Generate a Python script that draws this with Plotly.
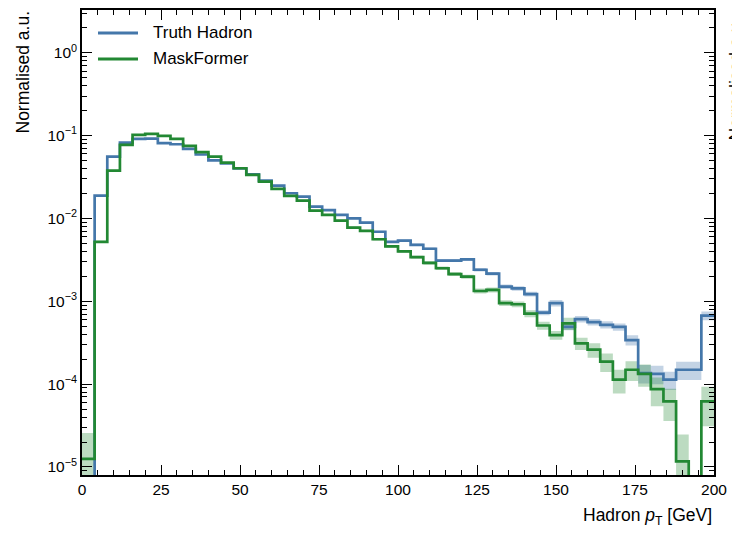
import numpy as np
import plotly.graph_objects as go

# ---- data -----------------------------------------------------------------
bin_edges = list(range(0, 204, 4))  # 50 bins of 4 GeV, 0-200 GeV

truth_hadron = [
    0.0, 0.0188, 0.0555, 0.082, 0.091, 0.092, 0.081, 0.0785, 0.069, 0.059,
    0.050, 0.046, 0.040, 0.034, 0.0286, 0.0249, 0.0201, 0.0183, 0.0139, 0.0126,
    0.0110, 0.0100, 0.0089, 0.0069, 0.0052, 0.0054, 0.0048, 0.0043, 0.0031, 0.0031,
    0.0032, 0.0024, 0.00215, 0.0015, 0.00143, 0.00122, 0.00073, 0.00095, 0.00049, 0.00061,
    0.00056, 0.00052, 0.00049, 0.00034, 0.000136, 0.000133, 0.000113, 0.000149, 0.000149, 0.00067,
]
truth_hadron_relerr = [
    0.0, 0.02, 0.01, 0.008, 0.007, 0.007, 0.008, 0.008, 0.008, 0.009,
    0.01, 0.011, 0.012, 0.013, 0.014, 0.015, 0.017, 0.018, 0.02, 0.021,
    0.023, 0.024, 0.025, 0.029, 0.032, 0.032, 0.034, 0.036, 0.042, 0.043,
    0.042, 0.048, 0.052, 0.06, 0.062, 0.068, 0.07, 0.09, 0.09, 0.09,
    0.09, 0.1, 0.1, 0.14, 0.25, 0.25, 0.25, 0.25, 0.25, 0.12,
]

maskformer = [
    1.25e-5, 0.0052, 0.0377, 0.077, 0.1016, 0.1046, 0.099, 0.091, 0.075, 0.063,
    0.0557, 0.047, 0.0403, 0.0335, 0.0278, 0.0227, 0.0187, 0.0164, 0.0124, 0.011,
    0.0094, 0.00775, 0.00706, 0.0056, 0.0046, 0.0040, 0.0034, 0.0029, 0.0025, 0.00213,
    0.00198, 0.00133, 0.00137, 0.00095, 0.00092, 0.00071, 0.00051, 0.00039, 0.00054, 0.00031,
    0.00026, 0.000187, 0.000113, 0.000149, 0.000133, 8.7e-5, 6.2e-5, 1.17e-5, 0.0, 6.2e-5,
]
maskformer_relerr = [
    1.05, 0.03, 0.012, 0.009, 0.008, 0.008, 0.008, 0.008, 0.009, 0.01,
    0.011, 0.012, 0.013, 0.014, 0.015, 0.017, 0.019, 0.02, 0.023, 0.024,
    0.026, 0.029, 0.03, 0.034, 0.037, 0.04, 0.043, 0.047, 0.05, 0.055,
    0.056, 0.07, 0.068, 0.08, 0.082, 0.095, 0.11, 0.12, 0.17, 0.17,
    0.2, 0.25, 0.32, 0.27, 0.3, 0.38, 0.42, 1.1, 0.0, 0.5,
]

series_names = ["Truth Hadron", "MaskFormer"]

x_tick_vals = [0, 25, 50, 75, 100, 125, 150, 175, 200]
y_tick_vals = [1e-5, 1e-4, 1e-3, 1e-2, 1e-1, 1e0]
y_tick_text = ["10<sup>−5</sup>", "10<sup>−4</sup>", "10<sup>−3</sup>",
               "10<sup>−2</sup>", "10<sup>−1</sup>", "10<sup>0</sup>"]

# ---- styling ----------------------------------------------------------------
W, H = 732, 533
L, R, T, B = 82, 18, 10, 58
FONT = "Liberation Sans, Arial, Helvetica, sans-serif"
BLUE = "#4477AA"
GREEN = "#228833"
FLOOR = 1e-9  # empty bins are drawn below the visible range

def px_to_paper_x(px):
    return (px - L) / (W - L - R)

def px_to_paper_y(py):
    return 1 - (py - T) / (H - T - B)

def step(vals):
    v = np.asarray(vals, dtype=float)
    v = np.where(v > 0, v, FLOOR)
    return list(v) + [v[-1]]

fig = go.Figure()

def add_band(vals, relerr, color_rgba):
    v = np.asarray(vals, dtype=float)
    r = np.asarray(relerr, dtype=float)
    lo = np.where(v > 0, np.maximum(v * (1 - r), FLOOR), FLOOR)
    hi = np.where(v > 0, v * (1 + r), FLOOR)
    fig.add_trace(go.Scatter(x=bin_edges, y=list(lo) + [lo[-1]], mode="lines",
                             line=dict(width=0, shape="hv"), hoverinfo="skip",
                             showlegend=False))
    fig.add_trace(go.Scatter(x=bin_edges, y=list(hi) + [hi[-1]], mode="lines",
                             line=dict(width=0, shape="hv"), fill="tonexty",
                             fillcolor=color_rgba, hoverinfo="skip",
                             showlegend=False))

add_band(truth_hadron, truth_hadron_relerr, "rgba(68,119,170,0.32)")
add_band(maskformer, maskformer_relerr, "rgba(34,136,51,0.30)")

fig.add_trace(go.Scatter(x=bin_edges, y=step(truth_hadron), mode="lines",
                         name=series_names[0],
                         line=dict(color=BLUE, width=2.7, shape="hv"),
                         showlegend=False))
fig.add_trace(go.Scatter(x=bin_edges, y=step(maskformer), mode="lines",
                         name=series_names[1],
                         line=dict(color=GREEN, width=2.7, shape="hv"),
                         showlegend=False))

# legend drawn as line samples + labels in the top-left corner
for i, (name, col) in enumerate(zip(series_names, [BLUE, GREEN])):
    yy = px_to_paper_y(33 + 26 * i)
    fig.add_shape(type="line", xref="paper", yref="paper",
                  x0=px_to_paper_x(98), x1=px_to_paper_x(138), y0=yy, y1=yy,
                  line=dict(color=col, width=3))
    fig.add_annotation(text=name, xref="paper", yref="paper",
                       x=px_to_paper_x(151), y=yy, xanchor="left", yanchor="middle",
                       showarrow=False, font=dict(family=FONT, size=17, color="black"))

# axis titles
fig.add_annotation(text="Normalised a.u.", textangle=-90, xref="paper", yref="paper",
                   x=px_to_paper_x(23), y=px_to_paper_y(9), xanchor="center", yanchor="top",
                   showarrow=False, font=dict(family=FONT, size=17.5, color="black"))
fig.add_annotation(text="Hadron <i>p</i><sub>T</sub> [GeV]", xref="paper", yref="paper",
                   x=1.0, y=px_to_paper_y(516), xanchor="right", yanchor="middle",
                   showarrow=False, font=dict(family=FONT, size=17.5, color="black"))
# neighbouring panel's axis title, cut by the figure edge
fig.add_annotation(text="Normalised a.u.", textangle=-90, xref="paper", yref="paper",
                   x=px_to_paper_x(723), y=px_to_paper_y(16), xanchor="left", yanchor="top",
                   showarrow=False, font=dict(family=FONT, size=17.5, color="black"))

y_minor = [k * 10.0 ** d for d in range(-6, 1) for k in range(2, 10)]

fig.update_layout(
    width=W, height=H,
    margin=dict(l=L, r=R, t=T, b=B, pad=0, autoexpand=False),
    paper_bgcolor="white", plot_bgcolor="white",
    font=dict(family=FONT, size=15.5, color="black"),
    showlegend=False,
    xaxis=dict(
        range=[0, 200], tickvals=x_tick_vals, ticks="inside", ticklen=10, tickwidth=1.2,
        tickcolor="black", showline=True, linecolor="black", linewidth=1.6,
        mirror="allticks", showgrid=False, zeroline=False, automargin=False,
        tickfont=dict(family=FONT, size=15.5),
        minor=dict(dtick=5, ticks="inside", ticklen=5, tickwidth=1, tickcolor="black",
                   showgrid=False),
    ),
    yaxis=dict(
        type="log", range=[-5.097, 0.515], tickvals=y_tick_vals, ticktext=y_tick_text,
        ticks="inside", ticklen=10, tickwidth=1.2, tickcolor="black",
        showline=True, linecolor="black", linewidth=1.6, mirror="allticks",
        showgrid=False, zeroline=False, automargin=False,
        tickfont=dict(family=FONT, size=15.5),
        minor=dict(tickvals=y_minor, ticks="inside", ticklen=5, tickwidth=1,
                   tickcolor="black", showgrid=False),
    ),
)

fig.write_html("out.html")
